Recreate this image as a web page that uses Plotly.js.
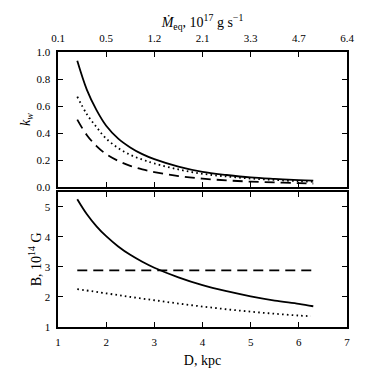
<!DOCTYPE html>
<html>
<head>
<meta charset="utf-8">
<script src="https://cdn.plot.ly/plotly-3.0.1.min.js"></script>
<style>
  html, body { margin: 0; padding: 0; background: #fff; }
  #chart { width: 370px; height: 379px; }
</style>
</head>
<body>
<div id="chart"></div>
<script>
// distance, kpc
let distance = [1.4, 1.6, 1.8, 2.0, 2.25, 2.5, 2.75, 3.0, 3.5, 4.0, 4.5, 5.0, 5.5, 6.0, 6.3];
let kwSolid = [0.935, 0.72, 0.57, 0.455, 0.36, 0.295, 0.245, 0.208, 0.153, 0.114, 0.091, 0.073, 0.062, 0.053, 0.049];
let kwDotted = [0.67, 0.54, 0.445, 0.36, 0.29, 0.24, 0.205, 0.176, 0.132, 0.10, 0.08, 0.065, 0.054, 0.045, 0.041];
let kwDashed = [0.50, 0.385, 0.305, 0.245, 0.195, 0.158, 0.132, 0.113, 0.083, 0.064, 0.051, 0.042, 0.036, 0.031, 0.028];

let bSolid = [5.25, 4.75, 4.35, 4.02, 3.68, 3.40, 3.17, 2.97, 2.65, 2.39, 2.19, 2.02, 1.88, 1.77, 1.69];
let dashedDistance = [1.4, 6.3];
let bDashed = [2.88, 2.88];
let dottedDistance = [1.4, 2.0, 2.5, 3.0, 3.5, 4.0, 4.5, 5.0, 5.5, 6.0, 6.25];
let bDotted = [2.26, 2.12, 2.0, 1.89, 1.78, 1.68, 1.59, 1.51, 1.44, 1.38, 1.36];

// top axis: equilibrium accretion rate at each distance tick
let distanceTicks = [1, 2, 3, 4, 5, 6, 7];
let mdotLabels = ["0.1", "0.5", "1.2", "2.1", "3.3", "4.7", "6.4"];

let solidLine = {color: "#000", width: 1.8, shape: "spline"};
let dottedLine = {color: "#000", width: 1.8, shape: "spline", dash: "1.6px,3.2px"};
let dashedLine = {color: "#000", width: 1.8, shape: "spline", dash: "10px,6px"};

let chartData = [
  {x: distance, y: kwSolid, xaxis: "x2", yaxis: "y2", mode: "lines", line: solidLine},
  {x: distance, y: kwDotted, xaxis: "x2", yaxis: "y2", mode: "lines", line: dottedLine},
  {x: distance, y: kwDashed, xaxis: "x2", yaxis: "y2", mode: "lines", line: dashedLine},
  {x: distance, y: bSolid, xaxis: "x", yaxis: "y", mode: "lines", line: solidLine},
  {x: dashedDistance, y: bDashed, xaxis: "x", yaxis: "y", mode: "lines", line: dashedLine},
  {x: dottedDistance, y: bDotted, xaxis: "x", yaxis: "y", mode: "lines", line: dottedLine}
];

let fontFamily = "Liberation Serif";

function axisStyle(extra) {
  let axis = {
    showline: true,
    linecolor: "#000",
    linewidth: 1.6,
    mirror: "ticks",
    ticks: "inside",
    ticklen: 5,
    tickwidth: 1,
    tickcolor: "#000",
    showgrid: false,
    zeroline: false,
    tickfont: {family: fontFamily, size: 11, color: "#000"},
    ticklabelstandoff: 4
  };
  return Object.assign(axis, extra);
}

function titleOf(text, standoff) {
  return {text: text, font: {family: fontFamily, size: 14, color: "#000"}, standoff: standoff};
}

let chartLayout = {
  width: 370,
  height: 379,
  showlegend: false,
  paper_bgcolor: "#fff",
  plot_bgcolor: "#fff",
  margin: {l: 58, r: 23, t: 52, b: 52},
  font: {family: fontFamily, size: 11, color: "#000"},

  xaxis: axisStyle({
    anchor: "y",
    range: [1, 7],
    tickvals: distanceTicks,
    title: titleOf("D, kpc", 8)
  }),
  yaxis: axisStyle({
    anchor: "x",
    domain: [0, 0.492],
    range: [1, 5.5],
    tickvals: [1, 2, 3, 4, 5],
    title: titleOf("B, 10<sup>14</sup> G", 0)
  }),
  xaxis2: axisStyle({
    anchor: "y2",
    side: "top",
    range: [1, 7],
    tickvals: distanceTicks,
    ticktext: mdotLabels,
    title: titleOf("<i>Ṁ</i><sub>eq</sub>, 10<sup>17</sup> g s<sup>−1</sup>", 0)
  }),
  yaxis2: axisStyle({
    anchor: "x2",
    domain: [0.508, 1],
    range: [0, 1],
    dtick: 0.2,
    tickformat: ".1f",
    title: titleOf("<i>k<sub>w</sub></i>", 2)
  })
};

Plotly.newPlot("chart", chartData, chartLayout, {displayModeBar: false, staticPlot: true});
</script>
</body>
</html>
